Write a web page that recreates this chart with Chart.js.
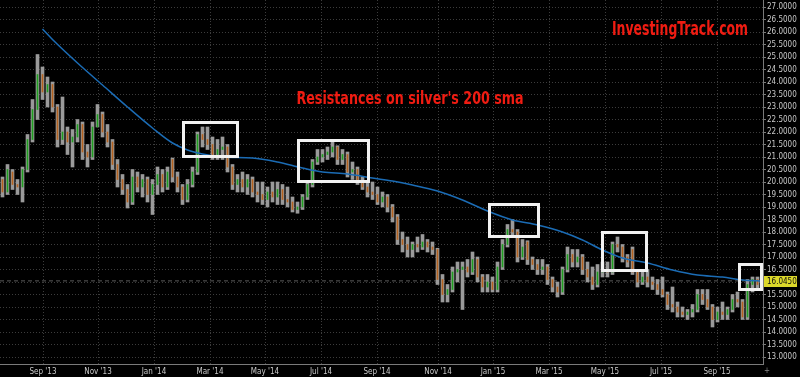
<!DOCTYPE html>
<html>
<head>
<meta charset="utf-8">
<script src="https://cdn.jsdelivr.net/npm/chart.js@4.4.1/dist/chart.umd.min.js"></script>
<style>
  html, body { margin: 0; padding: 0; background: #000; }
  #wrap { width: 800px; height: 377px; }
</style>
</head>
<body>
<div id="wrap"><canvas id="chart" width="800" height="377"></canvas></div>
<script>
// silver, ~half-week bars, Jul '13 -> Oct '15
const openP = [
  20.1, 19.6, 20.4, 19.9, 19.8, 20.5, 21.7, 22.9, 24.3, 23.6,
  23.9, 23.0, 21.7, 22.0, 21.6, 21.8, 22.3, 21.2, 21.0, 22.2,
  22.7, 22.0, 21.6, 20.7, 20.1, 19.7, 19.2, 20.2, 19.8, 20.1,
  19.5, 19.9, 20.3, 19.8, 20.9, 20.2, 19.8, 19.3, 19.9, 20.4,
  21.9, 21.7, 21.5, 21.1, 21.3, 21.4, 20.6, 19.9, 20.1, 19.8,
  20.1, 19.6, 19.5, 19.3, 19.6, 19.4, 19.7, 19.3, 19.2, 18.9,
  19.0, 19.4, 19.9, 20.8, 21.0, 21.1, 21.2, 21.4, 20.9, 21.1,
  20.4, 20.5, 20.0, 19.8, 19.6, 19.5, 19.2, 19.4, 19.0, 18.6,
  17.7, 17.5, 17.3, 17.5, 17.4, 17.6, 17.4, 17.3, 16.1, 15.5,
  15.7, 16.4, 16.5, 16.6, 16.4, 16.9, 16.2, 15.8, 16.0, 15.7,
  16.6, 17.5, 18.1, 18.0, 17.0, 17.6, 16.9, 16.7, 16.5, 16.6,
  16.1, 15.8, 15.6, 16.5, 17.1, 16.8, 17.0, 16.5, 16.2, 15.9,
  16.4, 16.5, 16.4, 17.5, 17.4, 17.0, 17.3, 16.4, 16.0, 16.2,
  16.0, 15.9, 15.7, 15.5, 15.1, 15.0, 14.8, 14.7, 14.8, 14.9,
  15.5, 15.3, 15.0, 14.5, 14.8, 14.7, 14.9, 15.3, 15.2, 14.6,
  15.9, 16.1, 15.9
];
const highP = [
  20.2, 20.7, 20.5, 20.1, 20.6, 21.9, 23.3, 25.1, 24.6, 24.2,
  24.0, 23.1, 23.4, 22.2, 22.1, 22.5, 22.4, 21.5, 22.4, 23.1,
  22.8, 22.3, 21.7, 20.9, 20.3, 19.9, 20.5, 20.4, 20.3, 20.2,
  20.1, 20.6, 20.5, 20.6, 20.96, 20.4, 19.9, 20.1, 20.6, 22.0,
  22.2, 22.2, 21.8, 21.7, 21.8, 21.5, 20.7, 20.3, 20.4, 20.3,
  20.2, 20.0, 20.0, 19.8, 20.0, 20.0, 19.9, 19.8, 19.4, 19.2,
  19.5, 20.0, 20.9, 21.3, 21.3, 21.4, 21.6, 21.45, 21.3, 21.2,
  20.8, 20.6, 20.2, 20.0, 20.0, 19.8, 19.6, 19.5, 19.1, 18.7,
  18.0, 17.8, 17.6, 17.8, 17.9, 17.7, 17.6, 17.35, 16.3, 15.9,
  16.6, 16.8, 16.8, 16.9, 17.2, 17.0, 16.3, 16.3, 16.2, 16.8,
  17.7, 18.3, 18.5, 18.1, 17.7, 17.65, 17.0, 16.9, 16.9, 16.7,
  16.2, 16.0, 16.6, 17.4, 17.3, 17.3, 17.1, 16.8, 16.6, 16.7,
  16.8, 16.8, 17.6, 17.8, 17.5, 17.1, 17.4, 16.5, 16.4, 16.5,
  16.2, 16.1, 16.2, 15.6, 15.8, 15.2, 15.0, 14.9, 15.1, 15.7,
  15.7, 15.7, 15.1, 15.0, 15.2, 15.0, 15.5, 15.6, 15.3, 16.1,
  16.2, 16.2, 16.2
];
const lowP = [
  19.4, 19.5, 19.7, 19.5, 19.2, 20.4, 21.6, 22.5, 23.3, 23.0,
  22.8, 21.4, 21.5, 21.1, 20.6, 21.6, 20.9, 20.6, 20.9, 22.2,
  21.8, 21.4, 20.5, 19.8, 19.5, 18.96, 19.1, 19.6, 19.4, 19.2,
  18.7, 19.5, 19.6, 19.7, 20.0, 19.6, 19.1, 19.2, 19.8, 20.3,
  21.4, 21.3, 20.9, 20.9, 20.9, 20.4, 19.7, 19.6, 19.6, 19.5,
  19.4, 19.2, 19.1, 19.0, 19.2, 19.1, 19.1, 19.0, 18.8, 18.75,
  18.9, 19.3, 19.8, 20.7, 20.8, 20.9, 21.0, 20.7, 20.7, 20.2,
  20.1, 19.9, 19.7, 19.4, 19.3, 19.1, 19.0, 18.8, 18.4, 17.5,
  17.2, 17.0, 17.0, 17.2, 17.3, 17.2, 17.1, 15.9, 15.2, 15.2,
  15.6, 16.0, 14.9, 16.2, 16.3, 16.0, 15.6, 15.6, 15.6, 15.6,
  16.5, 17.4, 17.8, 16.8, 16.9, 16.7, 16.5, 16.3, 16.3, 15.9,
  15.6, 15.4, 15.5, 16.4, 16.6, 16.6, 16.3, 16.0, 15.7, 15.8,
  16.2, 16.2, 16.3, 17.2, 16.8, 16.6, 16.3, 15.8, 15.9, 15.8,
  15.7, 15.5, 15.4, 14.9, 14.8, 14.6, 14.6, 14.5, 14.6, 14.8,
  15.1, 14.9, 14.2, 14.4, 14.5, 14.5, 14.8, 15.0, 14.5, 14.5,
  15.6, 15.7, 15.8
];
const closeP = [
  19.6, 20.5, 19.9, 19.8, 20.5, 21.7, 22.9, 24.3, 23.6, 23.9,
  23.0, 21.7, 22.0, 21.6, 21.8, 22.3, 21.2, 21.0, 22.2, 22.7,
  22.0, 21.6, 20.7, 20.1, 19.7, 19.2, 20.2, 19.8, 20.1, 19.5,
  19.9, 20.3, 19.8, 20.4, 20.2, 19.8, 19.3, 19.9, 20.4, 21.9,
  21.7, 21.5, 21.1, 21.3, 21.4, 20.6, 19.9, 20.1, 19.8, 20.1,
  19.6, 19.5, 19.3, 19.6, 19.4, 19.7, 19.3, 19.2, 18.9, 19.0,
  19.4, 19.9, 20.8, 21.0, 21.1, 21.2, 21.4, 20.9, 21.1, 20.4,
  20.5, 20.0, 19.8, 19.6, 19.5, 19.2, 19.4, 19.0, 18.6, 17.7,
  17.5, 17.3, 17.5, 17.4, 17.6, 17.4, 17.3, 16.1, 15.5, 15.7,
  16.4, 16.5, 16.6, 16.4, 16.9, 16.2, 15.8, 16.0, 15.7, 16.6,
  17.5, 18.1, 18.0, 17.0, 17.4, 16.9, 16.7, 16.5, 16.6, 16.1,
  15.8, 15.6, 16.5, 17.1, 16.8, 17.0, 16.5, 16.2, 15.9, 16.4,
  16.5, 16.4, 17.5, 17.4, 17.0, 16.8, 16.4, 16.0, 16.2, 16.0,
  15.9, 15.7, 15.5, 15.1, 15.0, 14.8, 14.7, 14.8, 14.9, 15.5,
  15.3, 15.0, 14.5, 14.8, 14.7, 14.9, 15.3, 15.2, 14.6, 15.9,
  16.1, 15.9, 16.045
];

// 200 sma, read at a few bar positions (starts around late Aug '13)
const smaX = [8, 10, 15, 20, 25, 30, 34, 37, 40, 44, 50, 55, 60, 64, 69, 74, 78, 82, 87,
  92, 97, 102, 107, 112, 116, 120, 124, 129, 134, 139, 144, 148, 152];
const smaY = [26.12, 25.7, 24.76, 23.88, 23.0, 22.16, 21.56, 21.28, 21.12, 21.0, 20.96,
  20.8, 20.56, 20.4, 20.32, 20.16, 20.04, 19.88, 19.64, 19.28, 18.84, 18.48, 18.28, 18.0,
  17.68, 17.28, 16.96, 16.76, 16.48, 16.28, 16.2, 16.08, 16.04];

const monthPos = [8.1, 19.1, 30.3, 41.5, 52.5, 63.7, 74.9, 87.1, 98.1, 109.3, 120.5, 131.7, 142.9];
const monthLabels = ["Sep '13", "Nov '13", "Jan '14", "Mar '14", "May '14", "Jul '14", "Sep '14",
  "Nov '14", "Jan '15", "Mar '15", "May '15", "Jul '15", "Sep '15"];
const yTicks = [13, 13.5, 14, 14.5, 15, 15.5, 16, 16.5, 17, 17.5, 18, 18.5, 19, 19.5, 20,
  20.5, 21, 21.5, 22, 22.5, 23, 23.5, 24, 24.5, 25, 25.5, 26, 26.5, 27];
const lastPrice = 16.045;

// resistance boxes (bar index / price)
const boxX0 = [35.9, 58.9, 97.1, 119.7, 147.1];
const boxX1 = [47.3, 73.5, 107.5, 129.1, 152.1];
const boxTop = [22.44, 21.72, 19.16, 18.04, 16.76];
const boxBottom = [20.96, 19.96, 17.76, 16.4, 15.64];

const X_MIN = -0.5, X_MAX = 152.1;
const axisFont = "'DejaVu Sans Condensed', 'DejaVu Sans', sans-serif";
const titleFont = "'Liberation Sans Narrow', 'DejaVu Sans Condensed', sans-serif";

const wickData = highP.map((h, i) => ({ x: i, y: [lowP[i], h] }));
const bodyData = closeP.map((c, i) => ({ x: i, y: [openP[i], c] }));
const bodyColors = closeP.map((c, i) => (c >= openP[i] ? '#1f9d1f' : '#b4621f'));

function squeezeText(ctx, text, cx, cy, size, targetW) {
  ctx.font = 'bold ' + size + 'px ' + titleFont;
  const w = ctx.measureText(text).width;
  const sx = Math.min(1, targetW / w);
  ctx.save();
  ctx.translate(cx, cy);
  ctx.scale(sx, 1);
  ctx.textAlign = 'center';
  ctx.textBaseline = 'middle';
  ctx.fillText(text, 0, 0);
  ctx.restore();
}

const annot = {
  id: 'annot',
  beforeDraw(chart) {
    const ctx = chart.ctx;
    ctx.save();
    ctx.fillStyle = '#000';
    ctx.fillRect(0, 0, chart.width, chart.height);
    ctx.restore();
  },
  afterDatasetsDraw(chart) {
    const ctx = chart.ctx;
    const xs = chart.scales.x, ys = chart.scales.y;
    ctx.save();
    ctx.strokeStyle = '#f2f2f2';
    ctx.lineWidth = 3;
    for (let i = 0; i < boxX0.length; i++) {
      const x0 = xs.getPixelForValue(boxX0[i]) + 1.5;
      const x1 = xs.getPixelForValue(boxX1[i]) - 1.5;
      const y0 = ys.getPixelForValue(boxTop[i]) + 1.5;
      const y1 = ys.getPixelForValue(boxBottom[i]) - 1.5;
      ctx.strokeRect(x0, y0, x1 - x0, y1 - y0);
    }
    ctx.restore();
  },
  afterDraw(chart) {
    const ctx = chart.ctx;
    const ys = chart.scales.y;
    ctx.save();
    ctx.fillStyle = '#f01c12';
    squeezeText(ctx, 'InvestingTrack.com', 680, 30, 19, 136);
    squeezeText(ctx, "Resistances on silver's 200 sma", 410, 99, 18, 227);

    // last price tag
    const py = Math.round(ys.getPixelForValue(lastPrice));
    ctx.fillStyle = '#dcd82a';
    ctx.fillRect(764, py - 5, 33, 11);
    ctx.fillStyle = '#111';
    ctx.font = '8px ' + axisFont;
    ctx.textAlign = 'left';
    ctx.textBaseline = 'middle';
    ctx.fillText(lastPrice.toFixed(4), 767, py + 0.5);

    ctx.fillStyle = '#888';
    ctx.fillText('+', 764, 371);
    ctx.restore();
  }
};

const ctx = document.getElementById('chart').getContext('2d');
new Chart(ctx, {
  type: 'bar',
  data: {
    datasets: [
      {
        type: 'line',
        data: smaX.map((x, i) => ({ x, y: smaY[i] })),
        borderColor: '#1b6cb5',
        borderWidth: 1.5,
        pointRadius: 0,
        cubicInterpolationMode: 'monotone',
        order: 0
      },
      {
        data: bodyData,
        backgroundColor: bodyColors,
        barThickness: 1,
        grouped: false,
        order: 1
      },
      {
        data: wickData,
        backgroundColor: '#9a9a9a',
        barThickness: 3,
        grouped: false,
        order: 2
      },
      {
        type: 'line',
        data: [{ x: X_MIN, y: lastPrice }, { x: X_MAX, y: lastPrice }],
        borderColor: '#5a5a5a',
        borderWidth: 1,
        borderDash: [4, 3],
        pointRadius: 0,
        order: 3
      }
    ]
  },
  options: {
    responsive: false,
    animation: false,
    devicePixelRatio: 1,
    layout: { padding: 0 },
    plugins: { legend: { display: false }, tooltip: { enabled: false } },
    events: [],
    scales: {
      x: {
        type: 'linear',
        min: X_MIN,
        max: X_MAX,
        offset: false,
        grid: { offset: false, color: '#3c3c3c', drawTicks: false },
        border: { display: true, color: '#7a7a7a', dash: [1, 2] },
        afterBuildTicks: (s) => { s.ticks = monthPos.map(v => ({ value: v })); },
        afterFit: (s) => { s.height = 13; s.paddingLeft = 0; s.paddingRight = 0; },
        ticks: {
          autoSkip: false,
          maxRotation: 0,
          padding: 3,
          color: '#c8c8c8',
          font: { family: axisFont, size: 8 },
          callback: (v, i) => monthLabels[i]
        }
      },
      y: {
        position: 'right',
        min: 12.72,
        max: 27.28,
        beginAtZero: false,
        grid: { color: '#3c3c3c', drawTicks: true, tickLength: 3, tickColor: '#7a7a7a' },
        border: { display: true, color: '#7a7a7a', dash: [1, 2] },
        afterBuildTicks: (s) => { s.ticks = yTicks.map(v => ({ value: v })); },
        afterFit: (s) => { s.width = 37; s.paddingTop = 0; s.paddingBottom = 0; },
        ticks: {
          autoSkip: false,
          padding: 1,
          color: '#c8c8c8',
          font: { family: axisFont, size: 8 },
          callback: (v) => Number(v).toFixed(4)
        }
      }
    }
  },
  plugins: [annot]
});
</script>
</body>
</html>
